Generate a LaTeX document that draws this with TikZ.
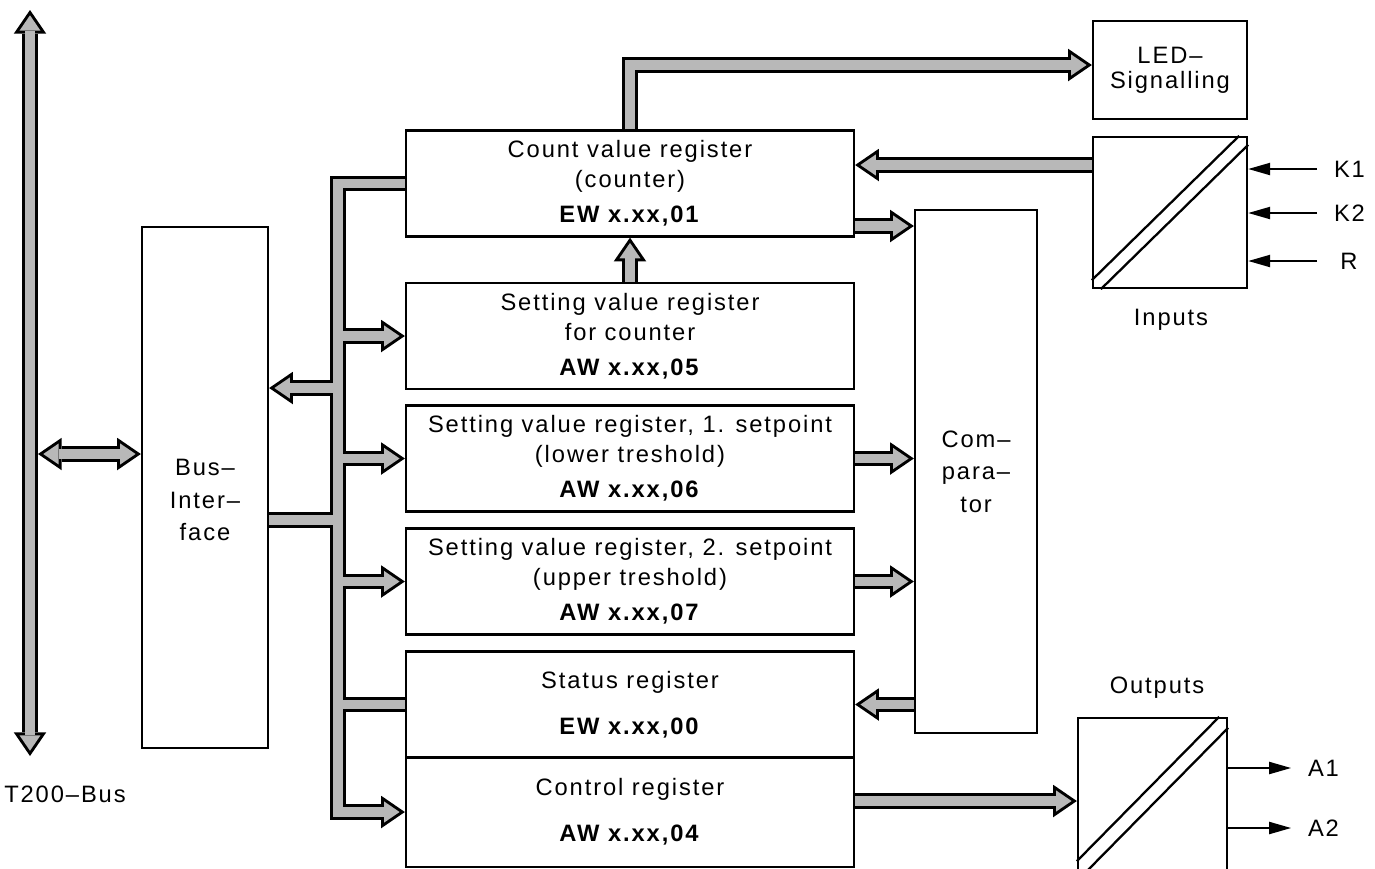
\documentclass[tikz,border=0pt]{standalone}
\usepackage{fontspec}
\setmainfont{Liberation Sans}[LetterSpace=8.0]
\usetikzlibrary{arrows.meta,calc}
\definecolor{busfill}{gray}{0.72}

\begin{document}
\begin{tikzpicture}[
    x=0.2mm, y=-0.2mm,
    textline/.style={
        font=\fontsize{13.5}{17}\selectfont,
        align=center
    },
    unit/.style={
        draw,
        line width=1.3pt,
        inner sep=0pt,
        textline
    },
    register/.style={
        unit,
        minimum width=89.6mm,
        minimum height=21.2mm
    },
    siglabel/.style={
        textline,
        text width=6mm,
        inner xsep=3.3mm,
        inner ysep=0pt
    },
    signal/.style={
        -{Triangle[length=4.4mm 0 0,width=2.4mm 0 0]},
        line width=1.2pt
    },
    slash/.style={
        line width=1.3pt
    },
    busout/.style={
        line width=9pt,
        color=black,
        line join=miter,
        fatend/.style={
            -{Triangle[length=13.5pt 0 0,width=18.5pt 0 0,line width=0pt 0 0]}
        },
        fatboth/.style={
            {Triangle[length=13.5pt 0 0,width=18.5pt 0 0,line width=0pt 0 0]}-{Triangle[length=13.5pt 0 0,width=18.5pt 0 0,line width=0pt 0 0]}
        }
    },
    busin/.style={
        line width=5.6pt,
        color=busfill,
        line join=miter,
        fatend/.style={
            -{Triangle[length=8.8pt 0 0,width=12pt 0 0,line width=0pt 0 0]},
            shorten >=3pt
        },
        fatboth/.style={
            {Triangle[length=8.8pt 0 0,width=12pt 0 0,line width=0pt 0 0]}-{Triangle[length=8.8pt 0 0,width=12pt 0 0,line width=0pt 0 0]},
            shorten <=3pt,
            shorten >=3pt
        }
    }
]

\useasboundingbox (0,0) rectangle (1375,868);
\clip (0,0) rectangle (1375,868);

% ==================================================
% Registers
% ==================================================

\node[register] (count) at (630,183.5)
    {Count value register\\(counter)\\[3pt]\textbf{EW x.xx,01}};

\node[register] (setc) at (630,336)
    {Setting value register\\for counter\\[3pt]\textbf{AW x.xx,05}};

\node[register] (set1) at (630,458.5)
    {Setting value register, 1. setpoint\\(lower treshold)\\[3pt]\textbf{AW x.xx,06}};

\node[register] (set2) at (630,581.5)
    {Setting value register, 2. setpoint\\(upper treshold)\\[3pt]\textbf{AW x.xx,07}};

\node[register] (status) at (630,704.5)
    {Status register\\[9pt]\textbf{EW x.xx,00}};

\node[register, minimum height=22mm] (control) at (630,812)
    {Control register\\[9pt]\textbf{AW x.xx,04}};

% ==================================================
% Bus interface and comparator
% ==================================================

\node[unit, minimum width=25.2mm, minimum height=104.2mm] (bif) at (205,487.5) {};
\node[textline] (bif text) at (205,500)
    {Bus–\\[1.5pt]Inter–\\[1.5pt]face};

\node[unit, minimum width=24.4mm, minimum height=104.6mm] (comp) at (976,471.5)
    {Com–\\[1.5pt]para–\\[1.5pt]tor};

\node[textline] (t200) at (65,794) {T200–Bus};

% ==================================================
% LED, inputs and outputs
% ==================================================

\node[unit, minimum width=30.8mm, minimum height=19.6mm] (led) at (1170,70)
    {LED–\\[-3pt]Signalling};

\node[unit, minimum width=30.8mm, minimum height=30.2mm] (in) at (1170,212.5) {};
\draw[slash] ($(in.south west)+(0,-9)$) -- ($(in.north east)+(-9,0)$);
\draw[slash] ($(in.south west)+(9,0)$) -- ($(in.north east)+(0,9)$);
\node[textline] (in label) at (1171,320) {Inputs};

\node[unit, minimum width=29.8mm, minimum height=30.6mm] (out) at (1152.5,794.5) {};
\draw[slash] ($(out.south west)+(0,-11)$) -- ($(out.north east)+(-9,0)$);
\draw[slash] ($(out.south west)+(9,0)$) -- ($(out.north east)+(0,11)$);
\node[textline] (out label) at (1157,688) {Outputs};

\node[siglabel] (k1) at (1349,169) {K1};
\node[siglabel] (k2) at (1349,213) {K2};
\node[siglabel] (r) at (1349,261) {R};
\node[siglabel] (a1) at (1323,768) {A1};
\node[siglabel] (a2) at (1323,828) {A2};

\draw[signal] (k1.west) -- (k1.west -| in.east);
\draw[signal] (k2.west) -- (k2.west -| in.east);
\draw[signal] (r.west) -- (r.west -| in.east);
\draw[signal] (a1.west -| out.east) -- (a1.west);
\draw[signal] (a2.west -| out.east) -- (a2.west);

% ==================================================
% Broad bus arrows (outline first, then the fill)
% ==================================================

\coordinate (bus top) at (30,10);
\coordinate (bus bot) at (30,756);
\coordinate (bus tap) at (38,454);
\coordinate (tap in) at (338,388);
\coordinate (tap out) at (338,520);
\coordinate (in tap) at ($(in.west)+(0,-47.5)$);
\coordinate (cnt tap) at ($(count.east)+(0,42.5)$);
\coordinate (ctl tap) at ($(control.east)+(0,-11)$);
\coordinate (led tap) at ($(led.west)+(0,-5)$);

\def\BusNet{%
    \draw[fatboth] (bus top) -- (bus bot);
    \draw[fatboth] (bus tap) -- (bus tap -| bif.west);
    % trunk
    \draw[fatend] (count.west) -- (count.west -| tap in)
        -- (control.west -| tap in) -- (control.west);
    \draw[fatend] (tap in) -- (tap in -| bif.east);
    \draw (tap out -| bif.east) -- (tap out);
    \draw[fatend] (setc.west -| tap in) -- (setc.west);
    \draw[fatend] (set1.west -| tap in) -- (set1.west);
    \draw[fatend] (set2.west -| tap in) -- (set2.west);
    \draw (status.west -| tap in) -- (status.west);
    % around the counter
    \draw[fatend] (setc.north) -- (count.south);
    \draw[fatend] (count.north) |- (led tap);
    \draw[fatend] (in tap) -- (in tap -| count.east);
    % comparator and outputs
    \draw[fatend] (cnt tap) -- (cnt tap -| comp.west);
    \draw[fatend] (set1.east) -- (set1.east -| comp.west);
    \draw[fatend] (set2.east) -- (set2.east -| comp.west);
    \draw[fatend] (status.east -| comp.west) -- (status.east);
    \draw[fatend] (ctl tap) -- (ctl tap -| out.west);
}

\begin{scope}[busout]
    \BusNet
\end{scope}
\begin{scope}[busin]
    \BusNet
\end{scope}

\end{tikzpicture}
\end{document}
